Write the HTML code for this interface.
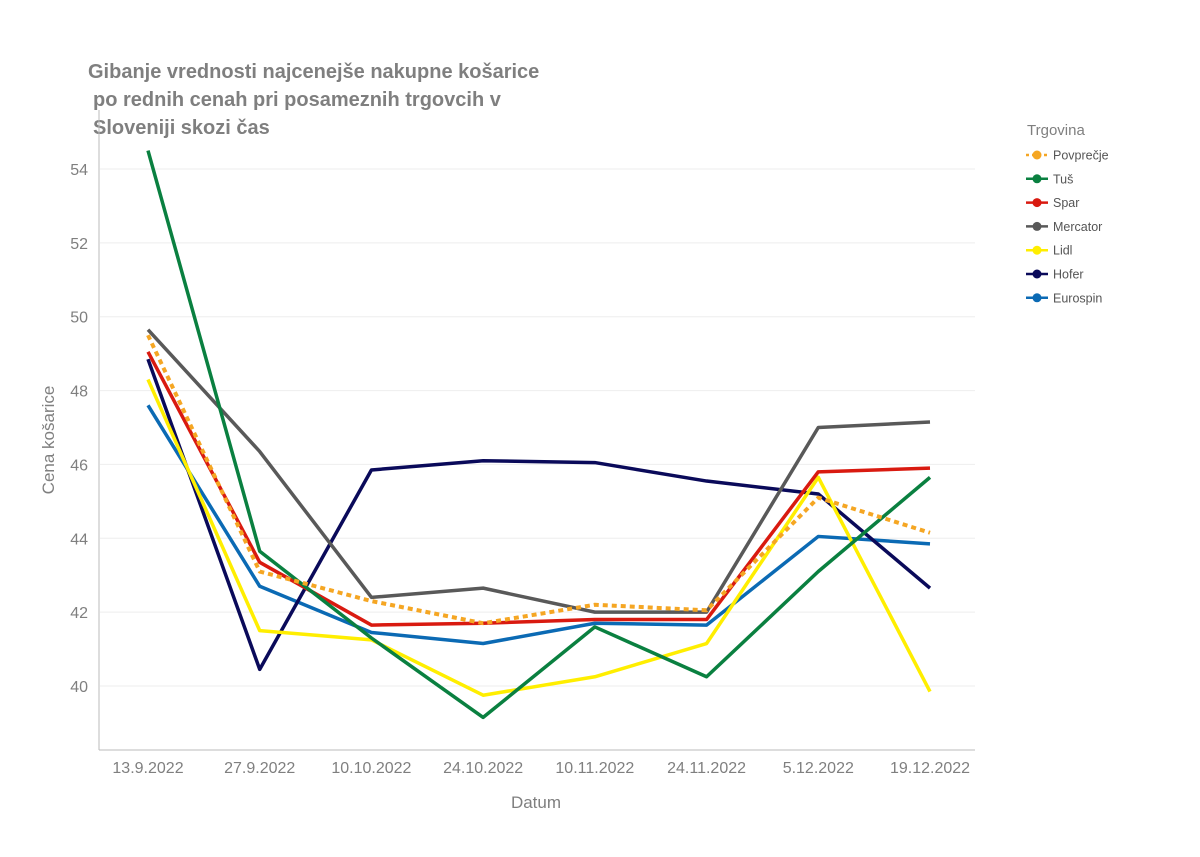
<!DOCTYPE html>
<html><head><meta charset="utf-8"><style>
body{margin:0;background:#fff;font-family:"Liberation Sans",sans-serif;}
svg text{font-family:"Liberation Sans",sans-serif;}
</style></head><body>
<svg id="chart" width="1200" height="852">
<text x="88" y="78" font-size="20" font-weight="bold" fill="#7f7f7f"><tspan x="88">Gibanje vrednosti najcenejše nakupne košarice</tspan><tspan x="93" dy="28">po rednih cenah pri posameznih trgovcih v</tspan><tspan x="93" dy="28">Sloveniji skozi čas</tspan></text>
<g id="grid"></g>
<g id="axes"></g>
<g id="series"></g>
<g id="legend"></g>
<text x="536" y="808" font-size="17" fill="#7f7f7f" text-anchor="middle">Datum</text>
<text transform="translate(54,440) rotate(-90)" font-size="17" fill="#7f7f7f" text-anchor="middle">Cena košarice</text>
</svg>
<script>
const categories=["13.9.2022","27.9.2022","10.10.2022","24.10.2022","10.11.2022","24.11.2022","5.12.2022","19.12.2022"];
const yTicks=[40,42,44,46,48,50,52,54];
const seriesNames=["Povprečje","Tuš","Spar","Mercator","Lidl","Hofer","Eurospin"];
const seriesColors=["#f5a623","#0a8040","#d91a10","#595959","#ffee00","#0a0a5a","#0b6ab4"];
const povprecje=[49.5,43.1,42.3,41.7,42.2,42.05,45.1,44.15];
const tus=[54.5,43.65,41.3,39.15,41.6,40.25,43.1,45.65];
const spar=[49.05,43.35,41.65,41.7,41.8,41.8,45.8,45.9];
const mercator=[49.65,46.35,42.4,42.65,42.0,42.0,47.0,47.15];
const lidl=[48.3,41.5,41.25,39.75,40.25,41.15,45.65,39.85];
const hofer=[48.85,40.45,45.85,46.1,46.05,45.55,45.2,42.65];
const eurospin=[47.6,42.7,41.45,41.15,41.7,41.65,44.05,43.85];
const allSeries=[povprecje,tus,spar,mercator,lidl,hofer,eurospin];
const NS="http://www.w3.org/2000/svg";
const x=i=>148+i*(930-148)/(categories.length-1);
const y=v=>686-(v-40)*(686-169)/14;
function mk(t,a,p){const e=document.createElementNS(NS,t);for(const k in a)e.setAttribute(k,a[k]);p.appendChild(e);return e;}
const grid=document.getElementById('grid'),axes=document.getElementById('axes'),ser=document.getElementById('series'),leg=document.getElementById('legend');
yTicks.forEach(t=>{
 const l=mk('line',{x1:100,x2:975,y1:y(t),y2:y(t),stroke:'#eeeeee'},grid);
 
 
 const tx=mk('text',{x:88,y:y(t)+6,'font-size':16,fill:'#7f7f7f','text-anchor':'end'},axes);
 tx.textContent=t;
 
 
});
const ya=mk('line',{x1:99,x2:99,y1:110,y2:750,stroke:'#bbb'},axes);


const xa=mk('line',{x1:99,x2:975,y1:750,y2:750,stroke:'#bbb'},axes);


categories.forEach((c,i)=>{
 const tx=mk('text',{x:x(i),y:773,'font-size':16,fill:'#7f7f7f','text-anchor':'middle'},axes);
 tx.textContent=c;
 
 
});
const order=[6,5,4,3,2,1,0];
order.forEach(s=>{
 const pts=allSeries[s].map((v,i)=>x(i)+','+y(v)).join(' ');
 const a={points:pts,fill:'none',stroke:seriesColors[s],'stroke-width':s==0?4:3.5,'stroke-linejoin':'round'};
 if(s==0)a['stroke-dasharray']='5,4';
 const p=mk('polyline',a,ser);
 
 
});
const lt=mk('text',{x:1027,y:135,'font-size':15,fill:'#7f7f7f'},leg);
lt.textContent='Trgovina';


seriesNames.forEach((n,i)=>{
 const yy=155+i*23.8;
 const g=mk('g',{},leg);
 
 
 const la={x1:1026,x2:1048,y1:yy,y2:yy,stroke:seriesColors[i],'stroke-width':2.5};
 if(i==0)la['stroke-dasharray']='3,3';
 mk('line',la,g);
 mk('circle',{cx:1037,cy:yy,r:4.5,fill:seriesColors[i]},g);
 const t=mk('text',{x:1053,y:yy+4.5,'font-size':12.5,fill:'#555'},g);
 t.textContent=n;
});
</script>
</body></html>
